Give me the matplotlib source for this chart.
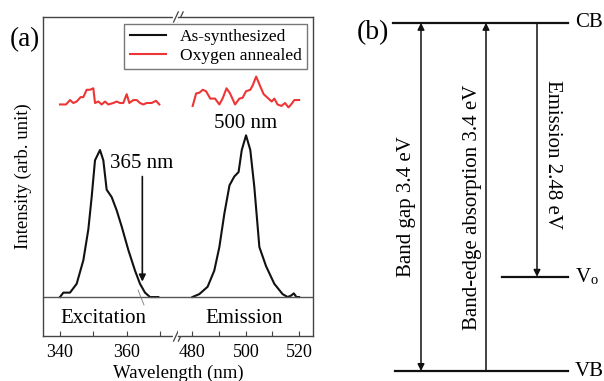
import matplotlib
matplotlib.use("Agg")
import matplotlib.pyplot as plt

plt.rcParams["font.family"] = ["Liberation Serif", "DejaVu Serif"]
plt.rcParams["mathtext.fontset"] = "stix"

# excitation spectrum (as-synthesized)
exc_wl = [340, 341, 343, 345, 347, 348.5, 349.5, 350.5, 352, 353, 354, 355.5,
          357, 358.5, 360.5, 362.5, 364, 365.5, 367, 369.5]
exc_int = [0, 0.03, 0.03, 0.09, 0.25, 0.46, 0.68, 0.93, 1.0, 0.93, 0.73, 0.68,
           0.59, 0.48, 0.32, 0.18, 0.09, 0.03, 0.0, 0.0]

# emission spectrum (as-synthesized)
em_wl = [480, 482.6, 485.7, 488.2, 490.1, 492, 493.9, 495.7, 497.3, 498.5, 500.1,
         501.7, 503.2, 505.1, 507.6, 510.7, 513.8, 515.7, 517, 518, 519, 520]
em_int = [0, 0.02, 0.07, 0.18, 0.34, 0.57, 0.76, 0.82, 0.85, 1.0, 1.10,
          1.0, 0.75, 0.34, 0.21, 0.09, 0.02, 0, 0.01, 0.025, 0, 0]

# oxygen annealed (offset traces)
ox_exc_wl = [340, 341.8, 343, 344, 345, 346.2, 347, 348, 349, 350, 350.5, 351.5,
             352.5, 353.5, 354.5, 356, 357, 358, 359, 360, 360.8, 362, 363, 364,
             365, 366, 367.5, 368.8, 369.8]
ox_exc_int = [1.31, 1.31, 1.34, 1.32, 1.33, 1.36, 1.36, 1.41, 1.41, 1.42, 1.32, 1.33,
              1.31, 1.33, 1.31, 1.32, 1.33, 1.32, 1.32, 1.38, 1.32, 1.34, 1.34, 1.32,
              1.31, 1.32, 1.32, 1.335, 1.31]
ox_em_wl = [480.1, 481.4, 482.6, 483.9, 485.1, 486.7, 488.5, 490.1, 491.3, 492.8,
            494.1, 496, 497.6, 498.8, 500.1, 501.7, 502.6, 503.9, 505.5, 506.7,
            508.2, 509.7, 510.7, 511.9, 513.4, 514.7, 516, 517, 518.2, 520]
ox_em_int = [1.30, 1.385, 1.39, 1.41, 1.40, 1.35, 1.35, 1.31, 1.35, 1.42,
             1.385, 1.31, 1.35, 1.355, 1.40, 1.41, 1.44, 1.50, 1.43, 1.38,
             1.355, 1.33, 1.35, 1.31, 1.30, 1.32, 1.29, 1.31, 1.34, 1.34]

# band diagram energies (eV, relative to VB)
e_vb = 0.0
e_cb = 3.4
e_vo = 3.4 - 2.48

W, H = 604, 381
fig = plt.figure(figsize=(W / 100, H / 100), dpi=100)

ax_l = fig.add_axes([43 / W, 1 - 336 / H, 135 / W, 319 / H])
ax_r = fig.add_axes([178 / W, 1 - 336 / H, 135 / W, 319 / H])

black = "#111111"
red = "#ee3535"
spine_c = "#444444"

ax_l.plot(exc_wl, exc_int, color=black, lw=1.5, label="As-synthesized")
ax_l.plot(ox_exc_wl, ox_exc_int, color=red, lw=1.5, label="Oxygen annealed")
ax_r.plot(em_wl, em_int, color=black, lw=1.5)
ax_r.plot(ox_em_wl, ox_em_int, color=red, lw=1.5)

ax_l.set_xlim(334.9, 375.4)
ax_r.set_xlim(474.6, 525.2)
for ax in (ax_l, ax_r):
    ax.set_ylim(-0.265, 1.905)
    ax.axhline(0, color="#555555", lw=1)
    ax.set_yticks([])
    ax.tick_params(axis="x", which="both", direction="in", top=False,
                   labelsize=13, length=3.5, width=0.8, color=spine_c, pad=6)
    for s in ax.spines.values():
        s.set_color(spine_c)
        s.set_linewidth(1)

ax_l.spines["right"].set_visible(False)
ax_r.spines["left"].set_visible(False)
ax_l.set_xticks([340, 360])
ax_l.set_xticks([350, 370], minor=True)
ax_r.set_xticks([480, 500, 520])
ax_r.set_xticks([490, 510], minor=True)

ax_l.set_ylabel("Intensity (arb. unit)", fontsize=13.5, labelpad=8)
fig.text(178 / W, 1 - 373 / H, "Wavelength (nm)", fontsize=13.5,
         ha="center", va="center")

# break marks "//" on top and bottom spines
for yy in (0, 1):
    ax_l.plot([0.975, 1.03], [yy, yy], transform=ax_l.transAxes, color="white",
              lw=3, clip_on=False, zorder=5)
    for dx in (-0.018, 0.018):
        ax_l.plot([0.985 + dx, 1.02 + dx], [yy - 0.016, yy + 0.016],
                  transform=ax_l.transAxes, color=spine_c, lw=0.9,
                  clip_on=False, zorder=6)

ax_l.text(353, -0.143, "Excitation", fontsize=15, ha="center", va="center")
ax_r.text(499.5, -0.143, "Emission", fontsize=15, ha="center", va="center")

ax_l.text(355, 0.91, "365 nm", fontsize=15, ha="left", va="center")
ax_l.annotate("", xy=(364.7, 0.105), xytext=(364.7, 0.82),
              arrowprops=dict(arrowstyle="-|>", color=black, lw=1.2,
                              mutation_scale=10, shrinkA=0, shrinkB=0))
ax_l.plot([363.4, 365.2], [0.048, -0.054], color="#777777", lw=0.6)
ax_r.text(499.8, 1.18, "500 nm", fontsize=15, ha="center", va="center")

fig.legend(loc="upper right", bbox_to_anchor=(307 / W, 1 - 24 / H),
           fontsize=12.5, frameon=True, fancybox=False, edgecolor="#555555",
           handlelength=2.1, borderpad=0.3, labelspacing=0.15,
           handletextpad=0.8, borderaxespad=0)

fig.text(25 / W, 1 - 40 / H, "(a)", fontsize=19.5, ha="center", va="center")

# band diagram
ax_b = fig.add_axes([0, 0, 1, 1], facecolor="none")
ax_b.set_xlim(0, W)
ax_b.set_ylim(-10 / 102.4, 371 / 102.4)
ax_b.axis("off")

ax_b.plot([393, 568], [e_cb, e_cb], color=black, lw=1.6)
ax_b.plot([395, 568], [e_vb, e_vb], color=black, lw=1.6)
ax_b.plot([502, 568], [e_vo, e_vo], color=black, lw=1.6)

arrow = dict(color=black, lw=1.1, mutation_scale=10, shrinkA=0, shrinkB=0)
ax_b.annotate("", xy=(421, e_cb), xytext=(421, e_vb),
              arrowprops=dict(arrowstyle="<|-|>", **arrow))
ax_b.annotate("", xy=(486, e_cb), xytext=(486, e_vb),
              arrowprops=dict(arrowstyle="-|>", **arrow))
ax_b.annotate("", xy=(537, e_vo), xytext=(537, e_cb),
              arrowprops=dict(arrowstyle="-|>", **arrow))

ax_b.text(406, (371 - 207) / 102.4, "Band gap 3.4 eV", rotation=90,
          fontsize=15, ha="center", va="center")
ax_b.text(472, (371 - 207) / 102.4, "Band-edge absorption 3.4 eV", rotation=90,
          fontsize=15, ha="center", va="center")
ax_b.text(553, (371 - 154) / 102.4, "Emission 2.48 eV", rotation=-90,
          fontsize=15, ha="center", va="center")

ax_b.text(575, e_cb, "CB", fontsize=15, ha="left", va="center")
ax_b.text(575, e_vb, "VB", fontsize=15, ha="left", va="center")
ax_b.text(575, e_vo, r"V$_\mathregular{o}$", fontsize=15, ha="left", va="center")
ax_b.text(373, (371 - 33) / 102.4, "(b)", fontsize=20, ha="center", va="center")

fig.savefig("out.png", dpi=100)
